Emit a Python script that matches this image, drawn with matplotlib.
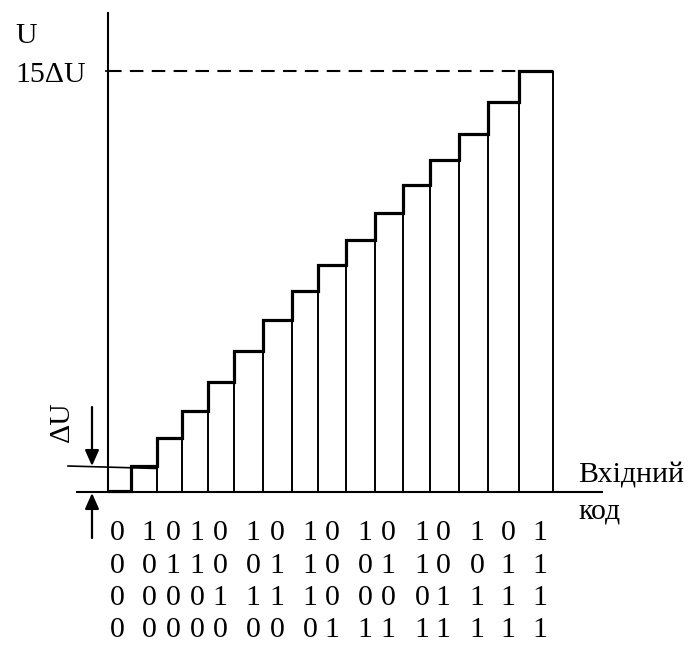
import matplotlib
matplotlib.use("Agg")
import matplotlib.pyplot as plt
from matplotlib.patches import FancyArrowPatch

# ---- data ----
# step boundaries of the 16 input codes (code units, slightly irregular as drawn)
step_edges = [0, 0.83, 1.76, 2.66, 3.6, 4.53, 5.57, 6.62, 7.55, 8.56,
              9.6, 10.61, 11.58, 12.63, 13.67, 14.78, 16.0]
# output level of each step, in units of dU
step_levels = [0.05, 0.93, 1.92, 2.89, 3.92, 5.02, 6.13, 7.16, 8.09, 8.98,
               9.94, 10.94, 11.83, 12.75, 13.89, 15.0]
full_scale = 15
code_bits = [
    [0, 1, 0, 1, 0, 1, 0, 1, 0, 1, 0, 1, 0, 1, 0, 1],
    [0, 0, 1, 1, 0, 0, 1, 1, 0, 0, 1, 1, 0, 0, 1, 1],
    [0, 0, 0, 0, 1, 1, 1, 1, 0, 0, 0, 0, 1, 1, 1, 1],
    [0, 0, 0, 0, 0, 0, 0, 0, 1, 1, 1, 1, 1, 1, 1, 1],
]
y_label = "U"
fs_label = "15\u0394U"
du_label = "\u0394U"
x_label = "Вхідний\nкод"

plt.rcParams['font.family'] = ['Liberation Serif', 'DejaVu Serif']

W, H = 693, 652
fig = plt.figure(figsize=(W / 100, H / 100), dpi=100)
ax = fig.add_axes([0, 0, 1, 1])
ax.set_axis_off()

# pixel mapping
x0px, x16px = 108, 553
y0px, y15px = 492, 71
sx = (x16px - x0px) / 16.0
sy = (y0px - y15px) / 15.0
ax.set_xlim(-x0px / sx, (W - x0px) / sx)
ax.set_ylim(-(H - y0px) / sy, y0px / sy)

def px(xp, yp):
    return (xp - x0px) / sx, (y0px - yp) / sy

k = dict(color='black', solid_capstyle='butt')

# axes
ax.plot([0, 0], [0, px(0, 12)[1]], lw=1.5, **k)
ax.plot([px(76, 0)[0], px(603, 0)[0]], [0, 0], lw=1.5, **k)

# vertical lines of each step
n = len(step_levels)
for i, e in enumerate(step_edges[1:], start=1):
    left = step_levels[i - 1]
    right = step_levels[i] if i < n else 0
    ax.plot([e, e], [0, max(left, right)], lw=1.4, **k)

# staircase outline
ax.stairs(step_levels, step_edges, baseline=None, color='black', lw=2.3)

# full-scale dashed line
ax.plot([0, step_edges[-2]], [full_scale, full_scale], lw=1.5, color='black',
        dashes=(6.5, 4))
# small tick on the U axis at full scale
ax.plot([px(105, 0)[0], px(111, 0)[0]], [full_scale, full_scale], lw=1.2, **k)

# dU reference line
a = px(68, 466)
b = px(157, 468.5)
ax.plot([a[0], b[0]], [a[1], b[1]], lw=1.2, color='black')

# arrows
xa = px(92, 0)[0]
for y_from, y_to in ((407, 466), (538, 493)):
    ax.add_patch(FancyArrowPatch((xa, px(0, y_from)[1]), (xa, px(0, y_to)[1]),
                                 arrowstyle='-|>,head_length=0.95,head_width=0.42',
                                 mutation_scale=10, lw=1.6, color='black',
                                 shrinkA=0, shrinkB=0))

fs = 21.5
ax.text(*px(15, 43), y_label, fontsize=fs, ha='left', va='baseline')
ax.text(*px(15, 82), fs_label, fontsize=fs, ha='left', va='baseline')
ax.text(*px(62, 422), du_label, fontsize=fs, ha='center', va='center',
        rotation=90)
ax.text(*px(578, 482), x_label.split("\n")[0], fontsize=fs, ha='left', va='baseline')
ax.text(*px(578, 518), x_label.split("\n")[1], fontsize=fs, ha='left', va='baseline')

# code bit rows (column positions as laid out in the drawing)
col_px = [117, 149, 173, 197, 220, 253, 277, 310, 332, 365, 388, 422, 443,
          477, 508, 540]
row_base = [540, 573, 605, 637]
for r, bits in enumerate(code_bits):
    yb = px(0, row_base[r])[1]
    for j, bit in enumerate(bits):
        ax.text(px(col_px[j], 0)[0], yb, str(bit), fontsize=fs,
                ha='center', va='baseline')

fig.savefig("out.png", dpi=100)
